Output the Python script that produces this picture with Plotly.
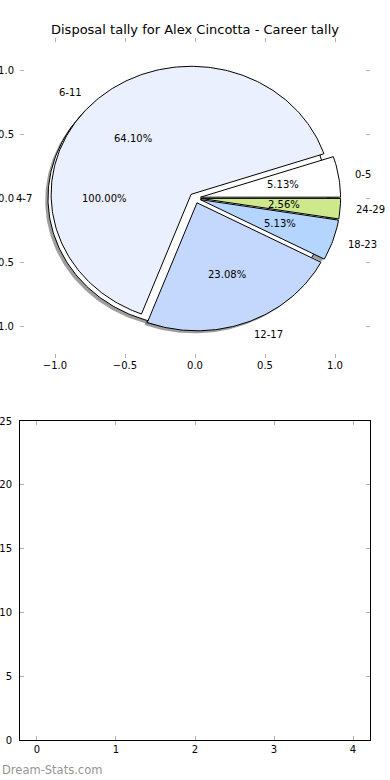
import numpy as np
import plotly.graph_objects as go

# ---------------- data ----------------
title_text = "Disposal tally for Alex Cincotta - Career tally"
categories = ["0-5", "6-11", "12-17", "18-23", "24-29"]
games = [2, 25, 9, 2, 1]
slice_colors = ["#ffffff", "#eaf0fd", "#c4d8fd", "#b4d5fe", "#cde98b"]
main_explode = 0.04

extra_categories = ["4-7"]
extra_games = [1]
extra_colors = ["#ffffff"]
extra_explode = 0.05

pie_ticks = [-1.0, -0.5, 0.0, 0.5, 1.0]
bar_xticks = [0, 1, 2, 3, 4]
bar_yticks = [0, 5, 10, 15, 20, 25]
watermark = "Dream-Stats.com"

FONT = "DejaVu Sans"
W, H = 390, 780


def wedges(values, explode):
    total = float(sum(values))
    out = []
    start = 0.0
    for v in values:
        frac = v / total
        t1 = 2 * np.pi * start
        t2 = 2 * np.pi * (start + frac)
        mid = (t1 + t2) / 2
        cx, cy = explode * np.cos(mid), explode * np.sin(mid)
        n = max(int(frac * 360), 4)
        ts = np.linspace(t1, t2, n)
        xs = cx + np.cos(ts)
        ys = cy + np.sin(ts)
        if frac < 0.9999:
            xs = np.concatenate([[cx], xs, [cx]])
            ys = np.concatenate([[cy], ys, [cy]])
        out.append(dict(x=xs, y=ys, cx=cx, cy=cy, mid=mid, frac=frac))
        start += frac
    return out


main_w = wedges(games, main_explode)
extra_w = wedges(extra_games, extra_explode)

fig = go.Figure()
shadow_dx, shadow_dy = -0.02, -0.02

# shadows (drawn beneath everything)
for w in extra_w + main_w:
    fig.add_trace(go.Scatter(x=w["x"] + shadow_dx, y=w["y"] + shadow_dy, mode="lines",
                             fill="toself", fillcolor="rgba(0,0,0,0.38)",
                             line=dict(width=0, color="rgba(0,0,0,0)"),
                             hoverinfo="skip", showlegend=False, xaxis="x", yaxis="y"))

annotations = []


def add_pie(ws, labels, colors):
    for w, lab, col in zip(ws, labels, colors):
        fig.add_trace(go.Scatter(x=w["x"], y=w["y"], mode="lines", fill="toself",
                                 fillcolor=col, line=dict(color="black", width=1),
                                 name=lab, showlegend=False, xaxis="x", yaxis="y"))
        lx = w["cx"] + 1.1 * np.cos(w["mid"])
        ly = w["cy"] + 1.1 * np.sin(w["mid"])
        annotations.append(dict(x=lx, y=ly, xref="x", yref="y", text=lab, showarrow=False,
                                xanchor="left" if lx > 0 else "right", yanchor="middle",
                                font=dict(family=FONT, size=10, color="black")))
        px_ = w["cx"] + 0.6 * np.cos(w["mid"])
        py_ = w["cy"] + 0.6 * np.sin(w["mid"])
        annotations.append(dict(x=px_, y=py_, xref="x", yref="y",
                                text="%.2f%%" % (100 * w["frac"]), showarrow=False,
                                xanchor="center", yanchor="middle",
                                font=dict(family=FONT, size=10, color="black")))


add_pie(extra_w, extra_categories, extra_colors)
add_pie(main_w, categories, slice_colors)

# empty lower axes
fig.add_trace(go.Scatter(x=[], y=[], xaxis="x2", yaxis="y2", showlegend=False))

annotations.append(dict(x=195 / W, y=1 - 30 / H, xref="paper", yref="paper", text=title_text,
                        showarrow=False, xanchor="center", yanchor="middle",
                        font=dict(family=FONT, size=13, color="black")))
annotations.append(dict(x=0, y=1 - 770 / H, xref="paper", yref="paper", text=watermark,
                        showarrow=False, xanchor="left", yanchor="middle",
                        font=dict(family=FONT, size=11.5, color="#959595")))

tickfont = dict(family=FONT, size=10, color="black")
common = dict(showgrid=False, zeroline=False, ticks="inside", ticklen=4, tickwidth=1,
              tickcolor="#b0b0b0", tickfont=tickfont, fixedrange=True, automargin=False)

fig.update_layout(
    width=W, height=H, margin=dict(l=0, r=0, t=0, b=0, autoexpand=False),
    paper_bgcolor="white", plot_bgcolor="white",
    showlegend=False,
    xaxis=dict(domain=[20 / W, 370 / W], range=[-1.25, 1.25], tickvals=pie_ticks,
               tickformat=".1f", anchor="y", showline=False, mirror="ticks", **common),
    yaxis=dict(domain=[1 - 358 / H, 1 - 38 / H], range=[-1.25, 1.25], tickvals=pie_ticks,
               tickformat=".1f", anchor="x", showline=False, mirror="ticks",
               ticklabelstandoff=5, **common),
    xaxis2=dict(domain=[20 / W, 370 / W], range=[-0.215, 4.215], tickvals=bar_xticks,
                anchor="y2", showline=True, linecolor="black", linewidth=1, mirror="ticks", **common),
    yaxis2=dict(domain=[1 - 740 / H, 1 - 421 / H], range=[0, 25], tickvals=bar_yticks,
                anchor="x2", showline=True, linecolor="black", linewidth=1, mirror="ticks",
                ticklabelstandoff=5, **common),
    annotations=annotations,
)

fig.write_html("out.html",
               config={"displayModeBar": False, "staticPlot": True},
               post_script="document.body.style.margin='0px';document.body.style.overflow='hidden';")
